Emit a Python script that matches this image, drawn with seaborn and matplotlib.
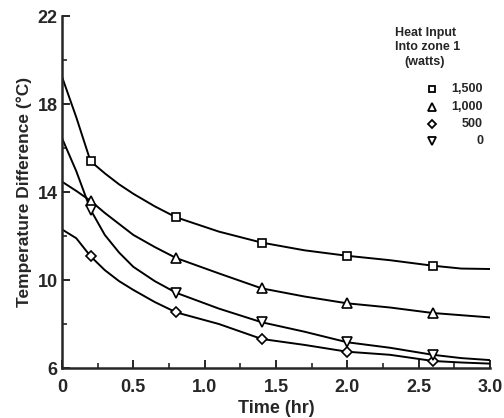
import numpy as np
import pandas as pd
import matplotlib
matplotlib.use("Agg")
import matplotlib.pyplot as plt
from matplotlib.ticker import FixedLocator, MultipleLocator
import seaborn as sns

# -----------------------------
# Data
# -----------------------------
time_hr = [0, 0.1, 0.2, 0.3, 0.4, 0.5, 0.65, 0.8, 1.1, 1.4, 1.7, 2.0, 2.3, 2.6, 2.8, 3.0]
marker_times = [0.2, 0.8, 1.4, 2.0, 2.6]

temp_1500 = [19.24, 17.4, 15.4, 14.85, 14.35, 13.92, 13.35, 12.85, 12.2, 11.7, 11.35, 11.1, 10.9, 10.65, 10.52, 10.5]
temp_1000 = [14.47, 14.05, 13.6, 13.05, 12.55, 12.05, 11.5, 11.0, 10.3, 9.62, 9.25, 8.94, 8.75, 8.5, 8.4, 8.3]
temp_500 = [12.3, 11.9, 11.08, 10.45, 9.95, 9.55, 9.0, 8.53, 8.0, 7.32, 7.05, 6.74, 6.6, 6.32, 6.25, 6.2]
temp_0 = [16.45, 14.95, 13.2, 12.05, 11.25, 10.6, 9.95, 9.42, 8.7, 8.08, 7.65, 7.17, 6.92, 6.6, 6.45, 6.36]

series_labels = ["1,500", "1,000", "500", "0"]
series_markers = ["s", "^", "D", "v"]
marker_sizes = [5.5, 6.5, 5.0, 6.5]

y_major = [6, 10, 14, 18, 22]
y_minor = [8, 12, 16, 20]
x_major = [0, 0.5, 1.0, 1.5, 2.0, 2.5, 3.0]
x_labels = ["0", "0.5", "1.0", "1.5", "2.0", "2.5", "3.0"]

df = pd.DataFrame({
    "time": time_hr * 4,
    "temp": temp_1500 + temp_1000 + temp_500 + temp_0,
    "watts": np.repeat(series_labels, len(time_hr)),
})

# -----------------------------
# Plot
# -----------------------------
sns.set_style("ticks")
plt.rcParams["font.family"] = ["Liberation Sans", "DejaVu Sans"]
plt.rcParams["font.weight"] = "bold"

fig = plt.figure(figsize=(5.04, 4.18), dpi=100)
ax = fig.add_axes([0.123, 0.1196, 0.849, 0.8421])

for lab, mk, ms in zip(series_labels, series_markers, marker_sizes):
    sub = df[df["watts"] == lab]
    sns.lineplot(data=sub, x="time", y="temp", color="black", lw=1.4, ax=ax,
                 legend=False, estimator=None, sort=True)
    pts = sub[sub["time"].isin(marker_times)]
    ax.plot(pts["time"], pts["temp"], ls="none", marker=mk, ms=ms,
            mfc="white", mec="black", mew=1.2, zorder=3)

ax.set_xlim(0, 3.0)
ax.set_ylim(6, 22)
sns.despine(ax=ax)
for s in ["left", "bottom"]:
    ax.spines[s].set_linewidth(1.8)

ax.xaxis.set_major_locator(FixedLocator(x_major))
ax.set_xticklabels(x_labels)
ax.xaxis.set_minor_locator(MultipleLocator(0.25))
ax.yaxis.set_major_locator(FixedLocator(y_major))
ax.yaxis.set_minor_locator(FixedLocator(y_minor))
ax.tick_params(which="major", direction="in", length=6, width=1.4,
               labelsize=13)
ax.tick_params(axis="x", which="major", pad=8)
ax.tick_params(axis="y", which="major", pad=3)
ax.tick_params(which="minor", direction="in", length=3.5, width=1.2)
for t in ax.get_xticklabels() + ax.get_yticklabels():
    t.set_fontweight("bold")

ax.set_xlabel("Time (hr)", fontsize=13, fontweight="bold", labelpad=3)
ax.set_ylabel("Temperature Difference (°C)", fontsize=12.5, fontweight="bold",
              labelpad=4)

# -----------------------------
# Key (drawn in axes coordinates, top right)
# -----------------------------
title_lines = [("Heat Input", 0.778, 0.952), ("Into zone 1", 0.778, 0.912),
               ("(watts)", 0.801, 0.869)]
for txt, xa, ya in title_lines:
    ax.text(xa, ya, txt, transform=ax.transAxes, fontsize=9, fontweight="bold",
            ha="left", va="center")

key_y = [0.793, 0.741, 0.692, 0.645]
for lab, mk, ms, ya in zip(series_labels, series_markers, marker_sizes, key_y):
    ax.plot([0.864], [ya], transform=ax.transAxes, ls="none", marker=mk,
            ms=ms - 1.0, mfc="white", mec="black", mew=1.3, clip_on=False)
    ax.text(0.984, ya, lab, transform=ax.transAxes, fontsize=9,
            fontweight="bold", ha="right", va="center")

fig.savefig("out.png", dpi=100)
